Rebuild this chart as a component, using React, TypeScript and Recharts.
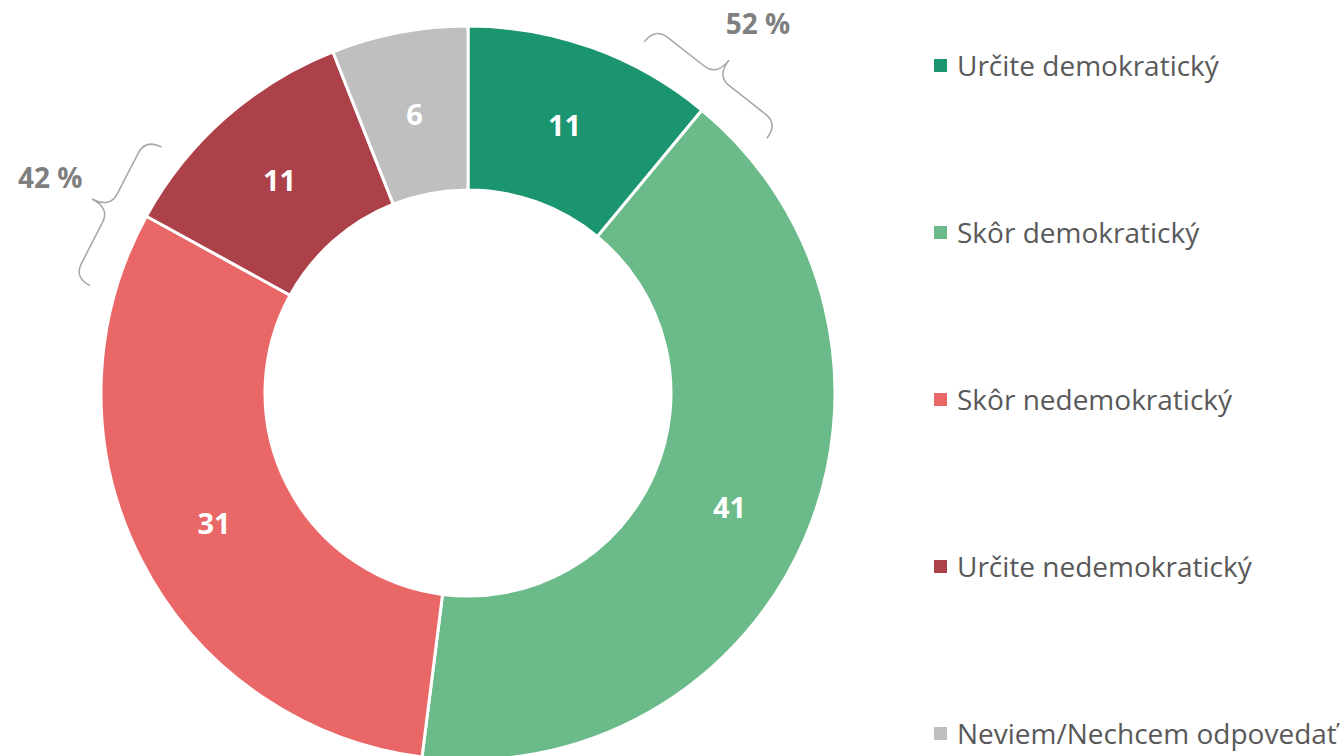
import React from "react";
import { PieChart, Pie, Cell, Legend, Customized } from "recharts";

const categories = [
  "Určite demokratický",
  "Skôr demokratický",
  "Skôr nedemokratický",
  "Určite nedemokratický",
  "Neviem/Nechcem odpovedať",
];
const values = [11, 41, 31, 11, 6];
const colors = ["#1b9470", "#6bba8a", "#e96766", "#ad4149", "#bfbfbf"];
// groups bracketed outside the ring: [first index, last index]
const groups = [
  [0, 1],
  [2, 3],
];

const CX = 468;
const CY = 393;
const OUTER = 367;
const INNER = 203;
const FONT = "'Open Sans', 'Noto Sans', sans-serif";

const data = categories.map((name, i) => ({ name, value: values[i] }));
const total = values.reduce((a, b) => a + b, 0);

// clockwise angle from top, in degrees, at the end of slice i
function boundaryAngle(i: number) {
  let s = 0;
  for (let k = 0; k <= i; k++) s += values[k];
  return (s / total) * 360;
}

function polar(deg: number, along: number, r: number) {
  const t = (deg * Math.PI) / 180;
  const ux = Math.sin(t), uy = -Math.cos(t);
  const tx = Math.cos(t), ty = Math.sin(t);
  return [CX + ux * r + tx * along, CY + uy * r + ty * along];
}

// curly braces with group totals, sitting just outside the ring
function Braces() {
  const r0 = OUTER + 18;
  const d = 18;
  const h = 20;
  const L = 78;
  const q = 16;
  return (
    <g>
      {groups.map(([a, b], gi) => {
        const deg = boundaryAngle(a) - 1.5;
        const p = (al: number, r: number) => polar(deg, al, r).map((v) => v.toFixed(1)).join(",");
        const path =
          `M${p(-L, r0)} Q${p(-L, r0 + d)} ${p(-L + q, r0 + d)} L${p(-q, r0 + d)} ` +
          `Q${p(0, r0 + d)} ${p(0, r0 + d + h)} Q${p(0, r0 + d)} ${p(q, r0 + d)} ` +
          `L${p(L - q, r0 + d)} Q${p(L, r0 + d)} ${p(L, r0)}`;
        let sum = 0;
        for (let k = a; k <= b; k++) sum += values[k];
        const [lx, ly] = polar(deg, 0, 470);
        return (
          <g key={gi}>
            <path d={path} fill="none" stroke="#a6a6a6" strokeWidth={1.5} />
            <text
              x={lx}
              y={ly}
              textAnchor="middle"
              dominantBaseline="central"
              fill="#7f7f7f"
              fontFamily={FONT}
              fontWeight={700}
              fontSize={28}
            >
              {`${sum} %`}
            </text>
          </g>
        );
      })}
    </g>
  );
}

function renderLabel(props: any) {
  const { cx, cy, midAngle, innerRadius, outerRadius, value } = props;
  const r = (innerRadius + outerRadius) / 2;
  const t = (-midAngle * Math.PI) / 180;
  const x = cx + r * Math.cos(t);
  const y = cy + r * Math.sin(t);
  return (
    <text
      x={x}
      y={y}
      textAnchor="middle"
      dominantBaseline="central"
      fill="#ffffff"
      fontFamily={FONT}
      fontWeight={700}
      fontSize={29}
    >
      {value}
    </text>
  );
}

function LegendContent() {
  return (
    <div style={{ fontFamily: FONT }}>
      {categories.map((c, i) => (
        <div
          key={c}
          style={{ height: 167, display: "flex", alignItems: "flex-start" }}
        >
          <span
            style={{
              width: 13,
              height: 13,
              background: colors[i],
              display: "inline-block",
              marginTop: 13,
              marginRight: 10,
              flex: "none",
            }}
          />
          <span style={{ color: "#595959", fontSize: 28, lineHeight: "38px", whiteSpace: "nowrap" }}>{c}</span>
        </div>
      ))}
    </div>
  );
}

export default function App() {
  return (
    <div style={{ position: "absolute", left: 0, top: 0, width: 1344, height: 756, background: "#fff" }}>
      <PieChart width={1344} height={756} margin={{ top: 0, right: 0, bottom: 0, left: 0 }}>
        <Pie
          data={data}
          dataKey="value"
          nameKey="name"
          cx={CX}
          cy={CY}
          innerRadius={INNER}
          outerRadius={OUTER}
          startAngle={90}
          endAngle={-270}
          stroke="#ffffff"
          strokeWidth={3}
          label={renderLabel}
          labelLine={false}
          isAnimationActive={false}
        >
          {data.map((d, i) => (
            <Cell key={d.name} fill={colors[i]} />
          ))}
        </Pie>
        <Customized component={Braces} />
        <Legend
          layout="vertical"
          align="right"
          verticalAlign="top"
          content={LegendContent}
          wrapperStyle={{ left: 934, top: 46, right: "auto", width: 410 }}
        />
      </PieChart>
    </div>
  );
}
